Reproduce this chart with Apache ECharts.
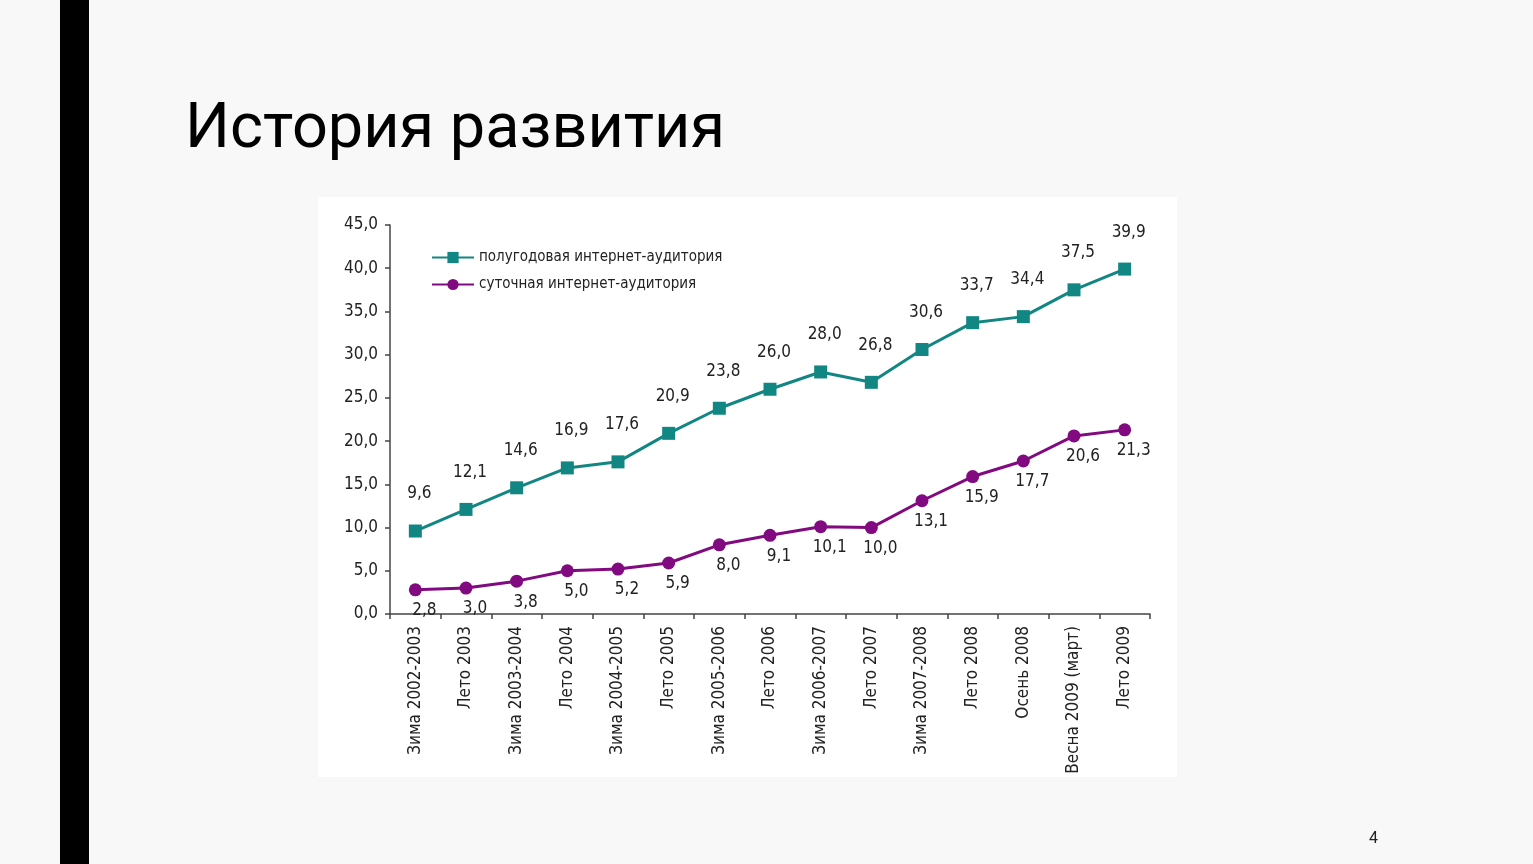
<!DOCTYPE html>
<html><head><meta charset="utf-8">
<script src="https://cdn.jsdelivr.net/npm/echarts@6/dist/echarts.min.js"></script>
<style>html,body{margin:0;padding:0;background:#f8f8f8;}#c{width:1533px;height:864px;}</style>
</head><body><div id="c"></div>
<script>
const categories = ['Зима 2002-2003','Лето 2003','Зима 2003-2004','Лето 2004','Зима 2004-2005','Лето 2005','Зима 2005-2006','Лето 2006','Зима 2006-2007','Лето 2007','Зима 2007-2008','Лето 2008','Осень 2008','Весна 2009 (март)','Лето 2009'];
const halfYear = [9.6,12.1,14.6,16.9,17.6,20.9,23.8,26.0,28.0,26.8,30.6,33.7,34.4,37.5,39.9];
const daily = [2.8,3.0,3.8,5.0,5.2,5.9,8.0,9.1,10.1,10.0,13.1,15.9,17.7,20.6,21.3];
const seriesNames = ['полугодовая интернет-аудитория','суточная интернет-аудитория'];
const titleText = 'История развития';
const pageNum = '4';

const FONT = "'Liberation Sans Narrow','DejaVu Sans Condensed','Liberation Sans',sans-serif";
const fmt = v => v.toFixed(1).replace('.', ',');
const TEAL = '#128682', PURPLE = '#820a80';

const chart = echarts.init(document.getElementById('c'));
chart.setOption({
  backgroundColor: '#f8f8f8',
  animation: false,
  graphic: [
    {type:'rect', shape:{x:60,y:0,width:29,height:864}, style:{fill:'#000'}, z:-10},
    {type:'rect', shape:{x:318,y:197,width:859,height:580}, style:{fill:'#fff'}, z:-10},
    {type:'text', left:185, top:100, style:{text:titleText, font:"63px Roboto, 'Liberation Sans', sans-serif", fill:'#000'}},
    {type:'text', left:1369, top:831, style:{text:pageNum, font:"16px Roboto, sans-serif", fill:'#222'}}
  ],
  legend: {
    left: 426, top: 245, orient: 'vertical', itemGap: 12, itemWidth: 42, itemHeight: 14,
    textStyle: {fontFamily: FONT, fontSize: 15, color: '#222', letterSpacing: -1},
    data: seriesNames
  },
  grid: {left: 390, right: 383, top: 225, bottom: 250, containLabel: false},
  xAxis: {
    type: 'category', data: categories, boundaryGap: true,
    axisLine: {lineStyle: {color: '#444', width: 1.5}},
    axisTick: {show: true, length: 5, inside: false, lineStyle: {color: '#444', width: 1.5}},
    axisLabel: {rotate: 90, interval: 0, fontFamily: FONT, fontSize: 17, color: '#222', margin: 12}
  },
  yAxis: {
    type: 'value', min: 0, max: 45, interval: 5,
    splitLine: {show: false},
    axisLine: {show: true, lineStyle: {color: '#444', width: 1.5}},
    axisTick: {show: true, length: 5, lineStyle: {color: '#444', width: 1.5}},
    axisLabel: {formatter: v => fmt(v), fontFamily: FONT, fontSize: 17, color: '#222', margin: 12}
  },
  series: [
    {
      name: seriesNames[0], type: 'line', data: halfYear,
      symbol: 'rect', symbolSize: 13,
      lineStyle: {color: TEAL, width: 3}, itemStyle: {color: TEAL},
      label: {show: true, position: 'top', distance: 22, formatter: p => fmt(p.value), fontFamily: FONT, fontSize: 17, color: '#222', offset: [4, 0]}
    },
    {
      name: seriesNames[1], type: 'line', data: daily,
      symbol: 'circle', symbolSize: 13,
      lineStyle: {color: PURPLE, width: 3}, itemStyle: {color: PURPLE},
      label: {show: true, position: 'bottom', distance: 6, formatter: p => fmt(p.value), fontFamily: FONT, fontSize: 17, color: '#222', offset: [9, 0]}
    }
  ]
});
</script></body></html>
